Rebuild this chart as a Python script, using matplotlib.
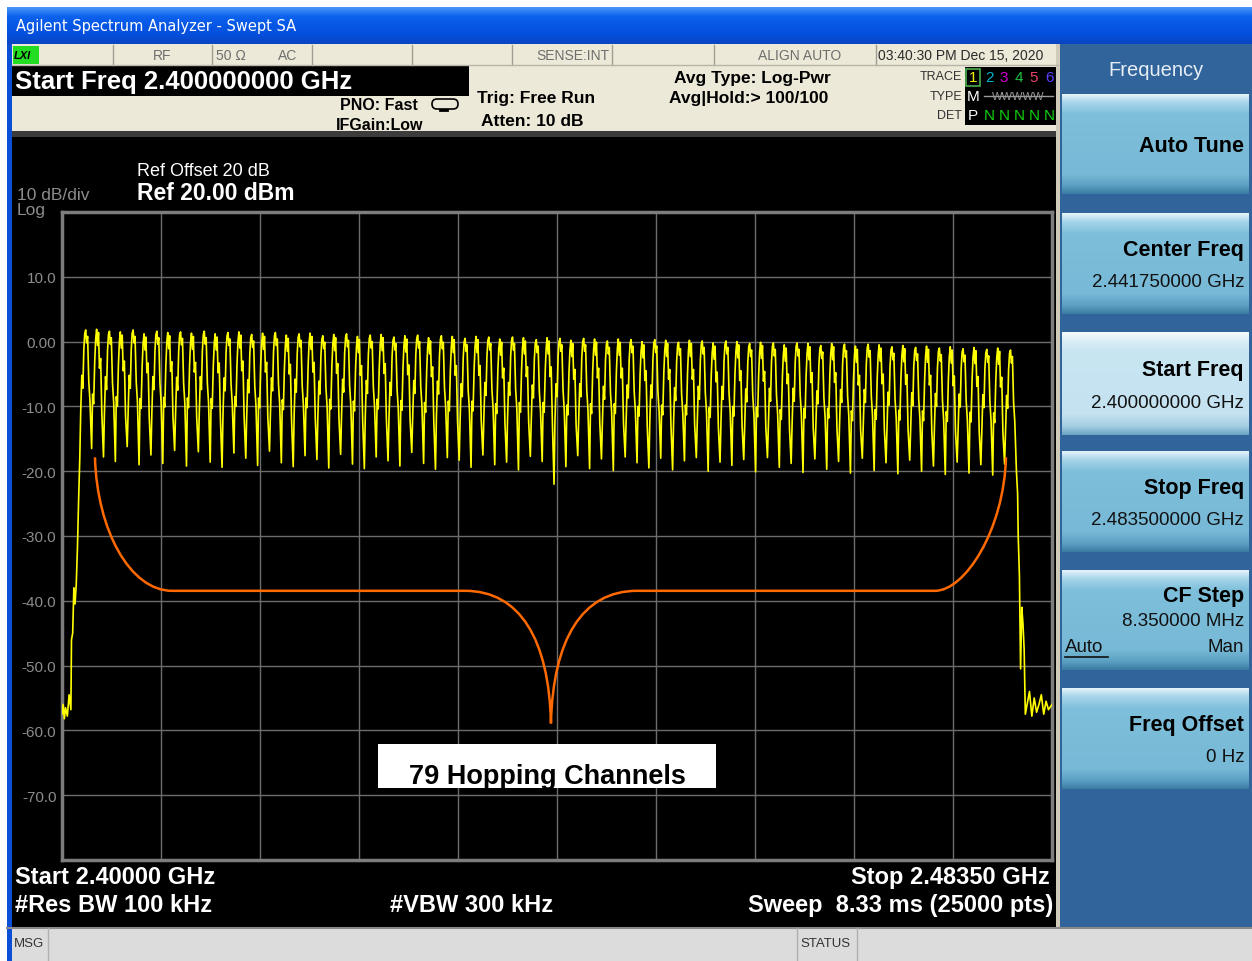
import matplotlib
matplotlib.use("Agg")
import matplotlib.pyplot as plt
import numpy as np
from matplotlib.patches import Rectangle, PathPatch, FancyBboxPatch
from matplotlib.path import Path
from matplotlib.colors import LinearSegmentedColormap

plt.rcParams["font.family"] = ["Liberation Sans", "DejaVu Sans"]

W, H = 1252, 962

# ---- sweep settings ----
start_mhz, stop_mhz = 2400.0, 2483.5
ref_db, bottom_db = 20, -80
ytick_labels = ["", "-70.0", "-60.0", "-50.0", "-40.0", "-30.0", "-20.0", "-10.0", "0.00", "10.0", ""]

# ---- trace 1 (max hold) ----
chan_mhz = list(range(2402, 2481))  # 79 hopping channels
peak_db = [1.8, 1.9, 1.6, 1.5, 1.8, 1.2, 1.6, 1.4, 1.5, 1.3, 1.6, 1.2, 1.4, 1.5, 1.1, 1.3, 1.4, 1.0, 1.2, 1.3,
           0.9, 1.1, 1.2, 0.8, 1.0, 1.1, 0.7, 0.9, 1.0, 0.6, 0.9, 0.8, 0.5, 0.8, 0.7, 0.4, 0.7, 0.6, 0.3, 0.6,
           0.5, 0.2, 0.5, 0.4, 0.1, 0.4, 0.3, 0.0, 0.3, 0.2, -0.1, 0.2, 0.1, -0.2, 0.1, 0.0, -0.3, -0.1, -0.2, -0.5,
           -0.2, -0.3, -0.6, -0.3, -0.4, -0.7, -0.4, -0.5, -0.8, -0.6, -0.9, -0.7, -1.0, -0.8, -1.1, -0.9, -1.2, -1.0, -1.3]
trough_db = [-18.0, -16.5, -17.8, -18.5, -16.2, -19.0, -17.5, -18.8, -16.8, -19.2, -17.0, -18.6, -19.4, -17.2, -18.0, -19.1, -16.9, -18.7, -19.3, -17.6,
             -18.2, -19.5, -17.4, -18.9, -19.6, -17.8, -18.4, -19.2, -17.1, -18.8, -19.7, -17.9, -18.3, -19.4, -17.5, -19.0, -18.6, -19.8, -17.7, -18.5,
             -22.0, -19.3, -17.6, -19.6, -18.1, -19.9, -17.8, -18.7, -19.5, -18.0, -19.8, -18.4, -17.9, -20.0, -18.6, -19.1, -18.2, -20.1, -17.9, -19.4,
             -18.8, -20.2, -18.1, -19.7, -18.5, -20.3, -18.0, -19.9, -18.7, -20.4, -18.3, -20.0, -19.2, -20.5, -18.6, -20.3, -19.0, -20.6, -18.9, -20.0]
# shape of one hop around its centre (MHz offset, dB below the peak)
shape_off = [-0.42, -0.33, -0.24, -0.16, -0.08, 0.0, 0.08, 0.16, 0.26, 0.36]
shape_a = [-12.5, -7.0, -9.0, -3.0, -0.5, 0.0, -2.0, -1.0, -8.0, -11.0]
shape_b = [-10.0, -11.5, -5.0, -1.5, 0.0, -2.5, -0.5, -6.0, -4.5, -13.0]
left_edge_mhz = [2400.0, 2400.1, 2400.2, 2400.3, 2400.45, 2400.6, 2400.75, 2400.8, 2400.9, 2401.0, 2401.1, 2401.2, 2401.3, 2401.4]
left_edge_db = [-57.5, -56.0, -58.2, -56.5, -57.8, -54.5, -56.8, -46.0, -45.0, -38.0, -40.5, -37.5, -32.0, -24.5]
right_edge_mhz = [2480.6, 2480.65, 2480.75, 2480.85, 2480.95, 2481.05, 2481.15, 2481.25, 2481.35, 2481.6, 2481.8,
                  2482.0, 2482.2, 2482.4, 2482.6, 2482.8, 2483.0, 2483.2, 2483.5]
right_edge_db = [-23.5, -30.0, -36.0, -50.5, -41.0, -43.5, -47.5, -57.5, -56.5, -54.0, -57.8,
                 -55.0, -57.2, -56.0, -54.5, -57.5, -55.5, -56.8, -56.0]

# hand drawn orange outline (MHz, dB) as bezier segments
mask_mhz = [2402.78, 2402.95, 2405.74, 2409.28, 2433.99, 2438.63, 2441.08, 2441.24,
            2441.41, 2443.86, 2448.50, 2473.63, 2476.16, 2479.45, 2479.62]
mask_db = [-17.85, -29.08, -38.46, -38.46, -38.46, -38.46, -46.0, -58.92,
           -46.0, -38.46, -38.46, -38.46, -38.46, -29.08, -17.85]
mask_codes = [Path.MOVETO, Path.CURVE4, Path.CURVE4, Path.CURVE4, Path.LINETO,
              Path.CURVE4, Path.CURVE4, Path.CURVE4, Path.CURVE4, Path.CURVE4, Path.CURVE4,
              Path.LINETO, Path.CURVE4, Path.CURVE4, Path.CURVE4]

# soft keys
key_titles = ["Auto Tune", "Center Freq", "Start Freq", "Stop Freq", "CF Step", "Freq Offset"]
key_values = ["", "2.441750000 GHz", "2.400000000 GHz", "2.483500000 GHz", "8.350000 MHz", "0 Hz"]
key_rows = [(95, 195), (214, 315), (333, 436), (452, 553), (571, 671), (689, 790)]

fig = plt.figure(figsize=(W / 100, H / 100), dpi=100)
bg = fig.add_axes([0, 0, 1, 1])
bg.set_axis_off()


def box(x0, y0, x1, y1, color, ax=bg, **kw):
    ax.add_patch(Rectangle((x0, y0), x1 - x0, y1 - y0, facecolor=color, edgecolor="none", **kw))


def vgrad(x0, y0, x1, y1, stops, ax=bg):
    cmap = LinearSegmentedColormap.from_list("g", stops)
    ax.imshow(np.linspace(0, 1, 256)[:, None], cmap=cmap, aspect="auto",
              extent=(x0, x1, y1, y0), interpolation="bilinear", zorder=1.5)


def txt(x, y, s, ax=bg, **kw):
    kw.setdefault("va", "center")
    return ax.text(x, y, s, **kw)


# window chrome
vgrad(7, 8, W, 45, ["#4a98f8", "#0d62ee", "#0656e4", "#0450dc", "#0a44c0"])
txt(16, 27, "Agilent Spectrum Analyzer - Swept SA", color="white", fontsize=10.5, family="DejaVu Sans")
box(7, 45, 12, H, "#0a4fd6")

# status row 1
box(12, 45, 1058, 66, "#ece9d8")
for x in [113, 212, 312, 412, 512, 612, 714, 876]:
    bg.plot([x, x], [46, 66], color="#a09e94", lw=1)
bg.plot([12, 1058], [66, 66], color="#b8b5a8", lw=1)
box(13, 47, 39, 65, "#22dd22")
txt(14, 56, "LXI", fontsize=8, fontweight="bold", style="italic", color="black")
for x, s in [(162, "RF"), (231, "50 Ω"), (288, "AC"), (800, "ALIGN AUTO")]:
    txt(x, 56, s, ha="center", fontsize=10, color="#6e6e6e")
txt(609, 56, "SENSE:INT", ha="right", fontsize=10, color="#6e6e6e")
txt(878, 56, "03:40:30 PM Dec 15, 2020", fontsize=10, color="#2a2a2a")

# status row 2
box(12, 66, 1058, 134, "#ece9d8")
box(12, 67, 469, 97, "black")
txt(15, 82, "Start Freq 2.400000000 GHz", color="white", fontsize=18.5, fontweight="bold")
txt(418, 106, "PNO: Fast", ha="right", fontsize=11.5, fontweight="bold", color="black")
txt(336, 125, "IFGain:Low", fontsize=11.5, fontweight="bold", color="black")
bg.add_patch(FancyBboxPatch((432, 100), 26, 10, boxstyle="round,pad=0,rounding_size=5",
                            facecolor="none", edgecolor="black", lw=1.2))
bg.plot([440, 447], [111, 111], color="black", lw=2)
txt(477, 99, "Trig: Free Run", fontsize=12.5, fontweight="bold", color="black")
txt(481, 122, "Atten: 10 dB", fontsize=12.5, fontweight="bold", color="black")
txt(674, 78, "Avg Type: Log-Pwr", fontsize=12.5, fontweight="bold", color="black")
txt(669, 99, "Avg|Hold:> 100/100", fontsize=12.5, fontweight="bold", color="black")
for y, s in [(77, "TRACE"), (97, "TYPE"), (116, "DET")]:
    txt(962, y, s, ha="right", fontsize=9, color="#333333")
box(965, 68, 1056, 126, "black")
bg.add_patch(Rectangle((966, 70), 14, 17, facecolor="none", edgecolor="#4caf50", lw=1.2))
trace_cols = ["#f0f000", "#00b4c8", "#d000d0", "#20c040", "#e8406a", "#5a40ff"]
digit_x = [973, 989, 1004, 1019, 1034, 1049]
for i, (x, c) in enumerate(zip(digit_x, trace_cols)):
    txt(x, 78, str(i + 1), ha="center", fontsize=11, color=c)
txt(973, 97, "M", ha="center", fontsize=11, color="white")
txt(1018, 97, "WWWWW", ha="center", fontsize=8, color="#9a9a9a")
bg.plot([984, 1053], [97, 97], color="#9a9a9a", lw=1)
txt(973, 116, "P", ha="center", fontsize=11, color="white")
for x in digit_x[1:]:
    txt(x, 116, "N", ha="center", fontsize=11, color="#10d010")
box(12, 132, 1058, 138, "#3c3c3c")

# main screen
box(12, 138, 1057, 928, "black")
box(1056, 45, 1060, 928, "#cfcbb8")
txt(137, 171, "Ref Offset 20 dB", color="white", fontsize=13)
txt(137, 194, "Ref 20.00 dBm", color="white", fontsize=16.5, fontweight="bold")
txt(17, 195, "10 dB/div", color="#8c8c8c", fontsize=12.5)
txt(17, 211, "Log", color="#8c8c8c", fontsize=12.5)
for y, s in [(878, "Start 2.40000 GHz"), (906, "#Res BW 100 kHz")]:
    txt(15, y, s, color="white", fontsize=17, fontweight="bold")
txt(390, 906, "#VBW 300 kHz", color="white", fontsize=17, fontweight="bold")
txt(1050, 878, "Stop 2.48350 GHz", ha="right", color="white", fontsize=17, fontweight="bold")
txt(1053, 906, "Sweep  8.33 ms (25000 pts)", ha="right", color="white", fontsize=17, fontweight="bold")

# soft key panel
box(1060, 45, W, 928, "#30649a")
txt(1156, 70, "Frequency", ha="center", color="#e8eef5", fontsize=14.5)
for i, ((y0, y1), t, v) in enumerate(zip(key_rows, key_titles, key_values)):
    if i == 2:
        stops = [(0, "#f6fbfd"), (0.1, "#d6ecf6"), (0.2, "#c8e5f2"), (0.8, "#c4e2f0"), (0.92, "#a2cde0"), (1, "#6aa4c3")]
    else:
        stops = [(0, "#e6f4fa"), (0.08, "#a9d6ea"), (0.2, "#7ebfdb"), (0.8, "#77b9d6"), (0.92, "#5a9ec2"), (1, "#3a7ba3")]
    vgrad(1062, y0, 1249, y1, stops)
    if t == "CF Step":
        txt(1244, y0 + 26, t, ha="right", fontsize=15.5, fontweight="bold", color="black")
        txt(1244, y0 + 51, v, ha="right", fontsize=13.5, color="#111111")
    elif v:
        txt(1244, y0 + 0.36 * (y1 - y0), t, ha="right", fontsize=15.5, fontweight="bold", color="black")
        txt(1244, y0 + 0.68 * (y1 - y0), v, ha="right", fontsize=13.5, color="#111111")
    else:
        txt(1244, (y0 + y1) / 2 + 2, t, ha="right", fontsize=15.5, fontweight="bold", color="black")
txt(1065, 648, "Auto", fontsize=13.5, color="#111111")
bg.plot([1065, 1108], [658, 658], color="#111111", lw=1.2, zorder=3)
txt(1244, 648, "Man", ha="right", fontsize=13.5, color="#111111")

# bottom message bar
box(7, 928, W, H, "#dcdcdc")
bg.plot([7, W], [928.5, 928.5], color="#8a8a8a", lw=1.5)
for x in [48, 797, 857]:
    bg.plot([x, x], [929, H], color="#b0b0b0", lw=1)
txt(14, 944, "MSG", fontsize=9.5, color="#333333")
txt(800, 944, "STATUS", fontsize=9.5, color="#333333")
box(7, 928, 12, H, "#0a4fd6")

bg.set_xlim(0, W)
bg.set_ylim(H, 0)

# ---- graticule ----
ax = fig.add_axes([62 / W, 1 - 861 / H, 990 / W, 648 / H])
ax.set_facecolor("black")
ax.set_xlim(start_mhz, stop_mhz)
ax.set_ylim(bottom_db, ref_db)
ax.set_xticks(np.linspace(start_mhz, stop_mhz, 11))
ax.set_yticks(range(bottom_db, ref_db + 10, 10), ytick_labels)
ax.tick_params(length=0, labelbottom=False, labelcolor="#8c8c8c", labelsize=11, pad=4)
ax.grid(True, color="#6c6c6c", lw=1)
ax.set_axisbelow(True)
for sp in ax.spines.values():
    sp.set_color("#7d7d7d")
    sp.set_linewidth(2.5)

xs, ys = list(left_edge_mhz), list(left_edge_db)
for i, (c, p) in enumerate(zip(chan_mhz, peak_db)):
    xs.append(c - 0.5)
    ys.append(trough_db[i])
    rel = shape_a if i % 2 == 0 else shape_b
    for o, r in zip(shape_off, rel):
        xs.append(c + o)
        ys.append(p + r)
xs.append(chan_mhz[-1] + 0.5)
ys.append(trough_db[-1])
xs += right_edge_mhz
ys += right_edge_db
ax.plot(xs, ys, color="#ffff00", lw=1.2, zorder=3)

mask = Path(list(zip(mask_mhz, mask_db)), mask_codes)
ax.add_patch(PathPatch(mask, facecolor="none", edgecolor="#ff6a00", lw=1.8, zorder=4))

# ---- annotation overlay ----
ov = fig.add_axes([0, 0, 1, 1], facecolor="none")
ov.set_axis_off()
ov.set_xlim(0, W)
ov.set_ylim(H, 0)
label_box = Rectangle((378, 745), 338, 44, facecolor="white", edgecolor="none")
ov.add_patch(label_box)
t = ov.text(547, 784, "79 Hopping Channels", ha="center", va="baseline",
            fontsize=19.5, fontweight="bold", color="black")
t.set_clip_path(label_box)

fig.savefig("out.png", dpi=100)
